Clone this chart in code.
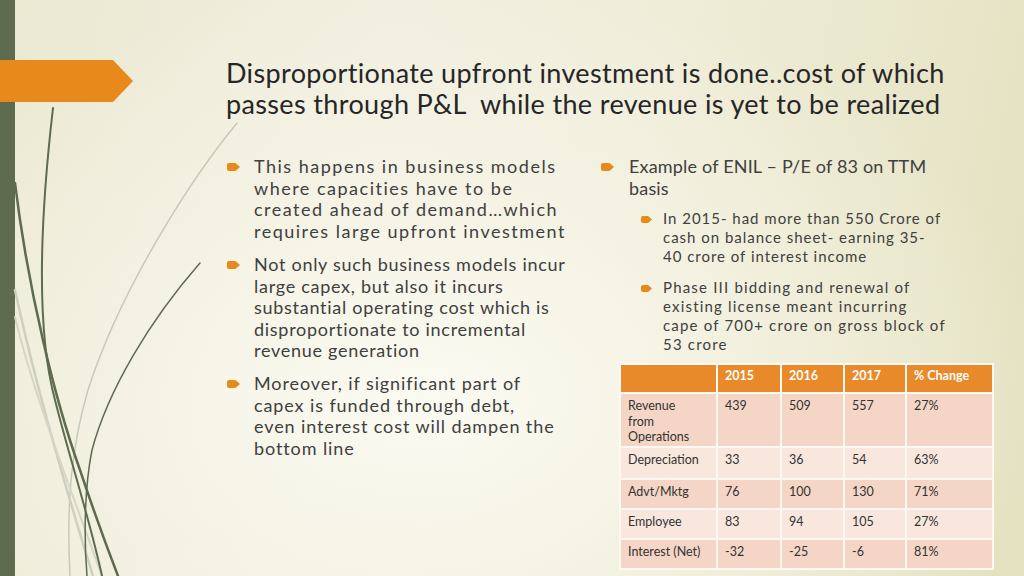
<!DOCTYPE html>
<html>
<head>
<meta charset="utf-8">
<script src="https://cdn.jsdelivr.net/npm/chart.js@4.4.1/dist/chart.umd.min.js"></script>
<style>
  html, body { margin: 0; padding: 0; }
  body {
    width: 1024px; height: 576px; overflow: hidden; position: relative;
    font-family: Lato, "DejaVu Sans", sans-serif;
    background:
      radial-gradient(ellipse 620px 420px at 430px 400px, rgba(252,251,243,0.95) 0%, rgba(248,247,235,0.6) 45%, rgba(248,247,235,0) 100%),
      linear-gradient(100deg, #ebe9d2 0%, #f1efdf 35%, #efedd8 60%, #e4e1c0 100%);
  }
  #deco { position: absolute; left: 0; top: 0; }
  .title {
    position: absolute; left: 226px; top: 57px;
    font-size: 27px; line-height: 31px; color: #262626; white-space: nowrap;
  }
  .para {
    position: absolute; white-space: nowrap; color: #404040;
  }
  .big { font-size: 18px; line-height: 21.5px; }
  .small { font-size: 15px; line-height: 19px; }
  .mark {
    position: absolute; background: #e8891c;
    clip-path: polygon(0 0, 65% 0, 100% 50%, 65% 100%, 0 100%);
    border-radius: 2px 0 0 2px;
  }
  .mark.big { width: 13px; height: 8px; }
  .mark.small { width: 11px; height: 7px; }
  table {
    position: absolute; left: 619px; top: 363px;
    border-collapse: collapse; table-layout: fixed;
    font-size: 12.5px; color: #333;
  }
  td {
    border: 2px solid #fbf9f1; vertical-align: top;
    padding: 4px 7px 0 7px; line-height: 15.5px; white-space: pre-line;
  }
  tr.head td { background: #e8892a; color: #fff; font-weight: bold; padding-top: 3px; }
  tr.odd td { background: #f5d6c6; }
  tr.even td { background: #f9e7de; }
</style>
</head>
<body>
<svg id="deco" width="1024" height="576">
  <rect x="0" y="0" width="15" height="576" fill="#5e6b4f"/>
  <g fill="none" stroke-linecap="round">
    <path d="M237,123 C190,180 120,290 88,390 C72,445 66,500 70,576" stroke="#c9c9b6" stroke-width="1.5"/>
    <path d="M15,290 C30,360 60,470 93,576" stroke="#cfcfbf" stroke-width="2.5"/>
    <path d="M15,317 C35,400 75,500 102,576" stroke="#d6d6c6" stroke-width="2"/>
    <path d="M53,108 C40,220 36,330 55,400 C70,460 90,520 102,576" stroke="#5e6b4f" stroke-width="2"/>
    <path d="M15,183 C28,290 55,400 80,470 C95,515 108,550 118,576" stroke="#5e6b4f" stroke-width="2.5"/>
    <path d="M200,263 C150,320 108,390 92,450 C84,490 84,540 87,576" stroke="#5e6b4f" stroke-width="1.5"/>
  </g>
  <polygon points="0,60 113,60 133,81 113,102 0,102" fill="#e8891c"/>
</svg>

<div class="title fit" data-w="720">Disproportionate upfront investment is done..cost of which<br>passes through P&amp;L&nbsp; while the revenue is yet to be realized</div>

<span class="mark big" style="left:227px; top:163px"></span>
<div class="para big fit" data-w="312" style="left:254px; top:156px">This happens in business models<br>where capacities have to be<br>created ahead of demand…which<br>requires large upfront investment</div>

<span class="mark big" style="left:227px; top:261px"></span>
<div class="para big fit" data-w="312" style="left:254px; top:254px">Not only such business models incur<br>large capex, but also it incurs<br>substantial operating cost which is<br>disproportionate to incremental<br>revenue generation</div>

<span class="mark big" style="left:227px; top:380px"></span>
<div class="para big fit" data-w="301" style="left:254px; top:373px">Moreover, if significant part of<br>capex is funded through debt,<br>even interest cost will dampen the<br>bottom line</div>

<span class="mark big" style="left:601px; top:163px"></span>
<div class="para big fit" data-w="299" style="left:629px; top:156px">Example of ENIL – P/E of 83 on TTM<br>basis</div>

<span class="mark small" style="left:641px; top:216px"></span>
<div class="para small fit" data-w="278" style="left:663px; top:209px">In 2015- had more than 550 Crore of<br>cash on balance sheet- earning 35-<br>40 crore of interest income</div>

<span class="mark small" style="left:641px; top:285px"></span>
<div class="para small fit" data-w="283" style="left:663px; top:278px">Phase III bidding and renewal of<br>existing license meant incurring<br>cape of 700+ crore on gross block of<br>53 crore</div>

<table id="tbl"></table>

<script>
// table data
var rowLabels = ['Revenue\nfrom\nOperations', 'Depreciation', 'Advt/Mktg', 'Employee', 'Interest (Net)'];
var years = ['2015', '2016', '2017'];
var v2015 = [439, 33, 76, 83, -32];
var v2016 = [509, 36, 100, 94, -25];
var v2017 = [557, 54, 130, 105, -6];
var pctChange = ['27%', '63%', '71%', '27%', '81%'];

var colWidths = [97, 64, 63, 62, 87];
var rowHeights = [29, 54, 32, 30, 30, 30];

var tbl = document.getElementById('tbl');
var cg = document.createElement('colgroup');
colWidths.forEach(function(w){
  var c = document.createElement('col');
  c.style.width = w + 'px';
  cg.appendChild(c);
});
tbl.appendChild(cg);
tbl.style.width = colWidths.reduce(function(a, b){ return a + b; }, 0) + 'px';

function addRow(cells, cls, h){
  var tr = document.createElement('tr');
  tr.className = cls;
  tr.style.height = h + 'px';
  cells.forEach(function(t){
    var td = document.createElement('td');
    td.textContent = t;
    tr.appendChild(td);
  });
  tbl.appendChild(tr);
}
addRow([''].concat(years, ['% Change']), 'head', rowHeights[0]);
rowLabels.forEach(function(lab, i){
  addRow([lab, v2015[i], v2016[i], v2017[i], pctChange[i]], i % 2 ? 'even' : 'odd', rowHeights[i + 1]);
});

// stretch letter spacing so the widest line of each block matches the slide
var mctx = document.createElement('canvas').getContext('2d');
function fitBlock(el){
  var cs = getComputedStyle(el);
  mctx.font = cs.fontWeight + ' ' + cs.fontSize + ' ' + cs.fontFamily;
  var lines = el.innerText.split('\n');
  var best = '', bw = 0;
  lines.forEach(function(l){
    var w = mctx.measureText(l).width;
    if (w > bw) { bw = w; best = l; }
  });
  var ls = (+el.dataset.w - bw) / Math.max(1, best.length);
  el.style.letterSpacing = ls.toFixed(2) + 'px';
}
document.querySelectorAll('.fit').forEach(fitBlock);
</script>
</body>
</html>
